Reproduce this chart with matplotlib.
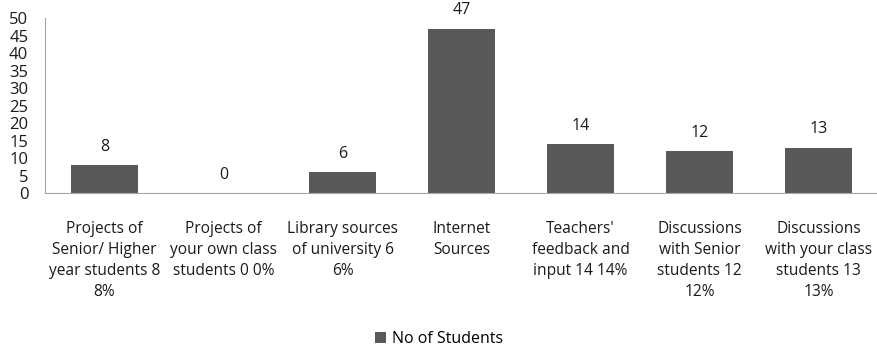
import matplotlib.pyplot as plt
import numpy as np

plt.rcParams['font.family'] = ['Open Sans', 'DejaVu Sans']

# Data
categories = [
    "Projects of\nSenior/ Higher\nyear students 8\n8%",
    "Projects of\nyour own class\nstudents 0 0%",
    "Library sources\nof university 6\n6%",
    "Internet\nSources",
    "Teachers'\nfeedback and\ninput 14 14%",
    "Discussions\nwith Senior\nstudents 12\n12%",
    "Discussions\nwith your class\nstudents 13\n13%",
]
students = [8, 0, 6, 47, 14, 12, 13]
yticks = [0, 5, 10, 15, 20, 25, 30, 35, 40, 45, 50]

fig = plt.figure(figsize=(8.78, 3.47), dpi=100)
ax = fig.add_axes([0.0513, 0.4438, 0.9487, 0.5042])

x = np.arange(len(categories))
bars = ax.bar(x, students, width=0.57, color='#595959', label='No of Students')

for xi, v in zip(x, students):
    ax.text(xi, v + 3, str(v), ha='center', va='bottom', fontsize=11.5, color='#1a1a1a')

ax.set_xlim(-0.5, len(categories) - 0.5)
ax.set_ylim(0, 50)
ax.set_yticks(yticks)
ax.set_xticks(x)
ax.set_xticklabels(categories, fontsize=11.2, linespacing=1.42, color='#1a1a1a')
ax.tick_params(axis='y', length=0, labelsize=12, pad=12, colors='#1a1a1a')
ax.tick_params(axis='x', length=0, pad=20)

for side in ['top', 'right']:
    ax.spines[side].set_visible(False)
ax.spines['left'].set_color('#a6a6a6')
ax.spines['bottom'].set_color('#a6a6a6')

fig.legend(handles=[bars], loc='center', bbox_to_anchor=(0.5, 0.022), frameon=False,
           fontsize=11.5, handlelength=0.7, handleheight=0.7, handletextpad=0.4)

fig.savefig('out.png', dpi=100)
